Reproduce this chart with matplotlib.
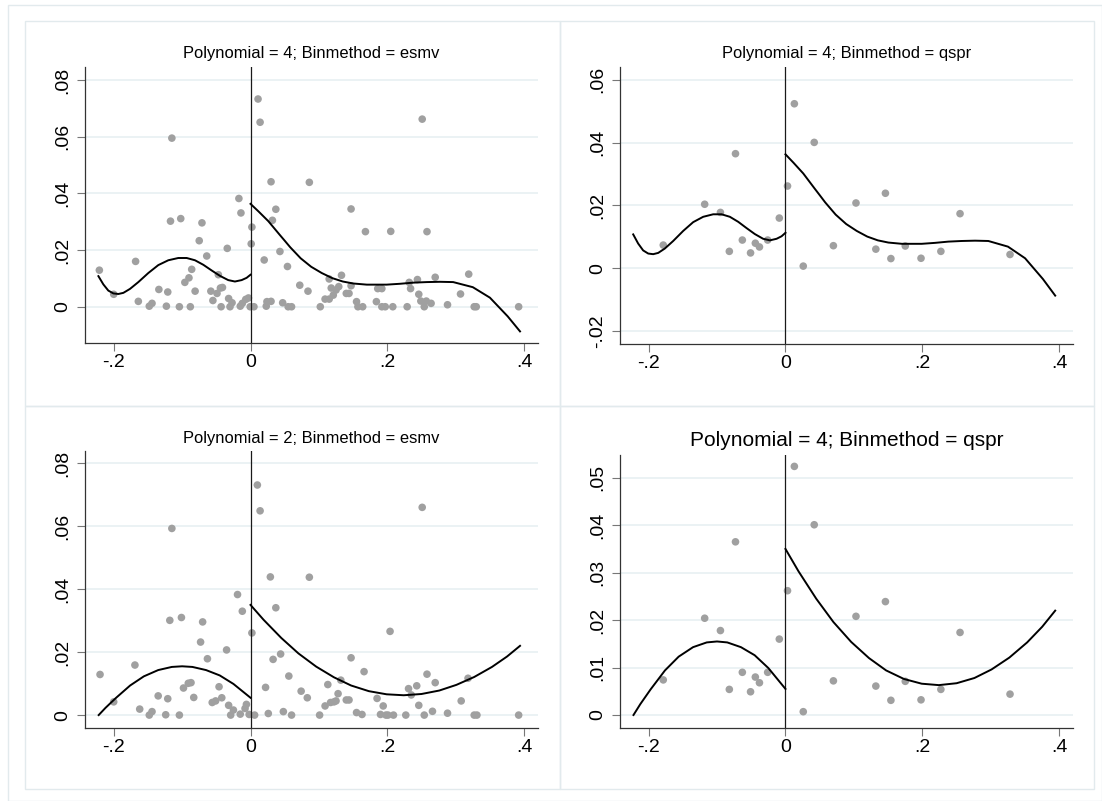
import numpy as np
import matplotlib
matplotlib.use("Agg")
import matplotlib.pyplot as plt
from matplotlib.patches import Rectangle
from matplotlib.ticker import FuncFormatter

plt.rcParams['font.family'] = ['Liberation Sans', 'DejaVu Sans']

#DATA - binned means, esmv (polynomial 4 panel)
esmv4_x = [-0.221, -0.200, -0.168, -0.164, -0.148, -0.144, -0.134, -0.123, -0.121, -0.115,
           -0.117, -0.104, -0.102, -0.096, -0.090, -0.086, -0.088, -0.081, -0.075, -0.071,
           -0.064, -0.058, -0.055, -0.049, -0.047, -0.044, -0.041, -0.043, -0.034, -0.032,
           -0.030, -0.027, -0.017, -0.014, -0.015, -0.012, -0.007, -0.003, -0.0005, 0.001,
           0.002, 0.005, 0.011, 0.014, 0.020, 0.023, 0.024, 0.030, 0.030, 0.032,
           0.037, 0.043, 0.047, 0.054, 0.055, 0.060, 0.072, 0.084, 0.086, 0.102,
           0.109, 0.115, 0.115, 0.118, 0.121, 0.125, 0.129, 0.133, 0.140, 0.144,
           0.147, 0.147, 0.155, 0.157, 0.164, 0.168, 0.184, 0.186, 0.192, 0.192,
           0.197, 0.208, 0.205, 0.229, 0.232, 0.234, 0.244, 0.246, 0.249, 0.254,
           0.257, 0.264, 0.251, 0.258, 0.270, 0.288, 0.307, 0.319, 0.327, 0.330, 0.392]
esmv4_y = [0.0129, 0.0044, 0.0160, 0.0019, 0.0002, 0.0012, 0.0061, 0.0002, 0.0052, 0.0595,
           0.0302, 0.0000, 0.0311, 0.0086, 0.0102, 0.0132, 0.0000, 0.0055, 0.0233, 0.0296,
           0.0179, 0.0055, 0.0022, 0.0047, 0.0113, 0.0066, 0.0068, 0.0000, 0.0206, 0.0029,
           0.0000, 0.0014, 0.0382, 0.0331, 0.0002, 0.0012, 0.0026, 0.0031, 0.0000, 0.0222,
           0.0281, 0.0000, 0.0733, 0.0651, 0.0165, 0.0002, 0.0018, 0.0019, 0.0441, 0.0305,
           0.0344, 0.0195, 0.0014, 0.0142, 0.0000, 0.0000, 0.0076, 0.0055, 0.0439, 0.0000,
           0.0027, 0.0027, 0.0098, 0.0066, 0.0041, 0.0059, 0.0071, 0.0111, 0.0047, 0.0047,
           0.0345, 0.0074, 0.0018, 0.0000, 0.0000, 0.0265, 0.0018, 0.0064, 0.0064, 0.0000,
           0.0000, 0.0000, 0.0266, 0.0000, 0.0086, 0.0064, 0.0096, 0.0044, 0.0020, 0.0000,
           0.0020, 0.0012, 0.0662, 0.0265, 0.0104, 0.0007, 0.0045, 0.0115, 0.0000, 0.0000, 0.0000]

#DATA - binned means, esmv (polynomial 2 panel)
esmv2_x = [-0.220, -0.200, -0.169, -0.162, -0.148, -0.144, -0.135, -0.124, -0.121, -0.115,
           -0.118, -0.104, -0.101, -0.098, -0.091, -0.087, -0.083, -0.073, -0.070, -0.063,
           -0.056, -0.051, -0.046, -0.042, -0.035, -0.032, -0.029, -0.025, -0.019, -0.012,
           -0.015, -0.008, -0.006, -0.002, 0.002, 0.006, 0.010, 0.014, 0.022, 0.026,
           0.029, 0.033, 0.037, 0.044, 0.048, 0.056, 0.060, 0.074, 0.083, 0.086,
           0.101, 0.109, 0.113, 0.117, 0.122, 0.125, 0.128, 0.132, 0.140, 0.144,
           0.147, 0.155, 0.163, 0.166, 0.185, 0.190, 0.194, 0.198, 0.201, 0.209,
           0.204, 0.227, 0.231, 0.235, 0.243, 0.246, 0.251, 0.254, 0.258, 0.266,
           0.270, 0.288, 0.308, 0.318, 0.327, 0.331, 0.392]
esmv2_y = [0.0129, 0.0042, 0.0159, 0.0019, 0.0000, 0.0011, 0.0061, 0.0001, 0.0052, 0.0593,
           0.0301, 0.0000, 0.0310, 0.0086, 0.0101, 0.0103, 0.0056, 0.0232, 0.0296, 0.0179,
           0.0040, 0.0045, 0.0090, 0.0055, 0.0207, 0.0031, 0.0000, 0.0016, 0.0383, 0.0330,
           0.0003, 0.0021, 0.0034, 0.0002, 0.0261, 0.0000, 0.0731, 0.0649, 0.0088, 0.0005,
           0.0439, 0.0177, 0.0341, 0.0194, 0.0011, 0.0124, 0.0000, 0.0076, 0.0055, 0.0438,
           0.0000, 0.0029, 0.0097, 0.0040, 0.0042, 0.0045, 0.0068, 0.0111, 0.0048, 0.0048,
           0.0182, 0.0008, 0.0002, 0.0138, 0.0053, 0.0002, 0.0029, 0.0000, 0.0000, 0.0000,
           0.0266, 0.0000, 0.0084, 0.0064, 0.0093, 0.0031, 0.0660, 0.0000, 0.0130, 0.0012,
           0.0103, 0.0006, 0.0045, 0.0117, 0.0000, 0.0000, 0.0000]

#DATA - binned means, qspr
qspr_x = [-0.1785, -0.118, -0.095, -0.082, -0.073, -0.063, -0.051, -0.044, -0.038, -0.026,
          -0.009, 0.003, 0.013, 0.026, 0.042, 0.070, 0.103, 0.132, 0.146, 0.154,
          0.175, 0.198, 0.227, 0.255, 0.328]
qspr_y = [0.0074, 0.0204, 0.0178, 0.0054, 0.0365, 0.0090, 0.0049, 0.0080, 0.0068, 0.0090,
          0.0160, 0.0262, 0.0524, 0.0007, 0.0401, 0.0072, 0.0208, 0.0061, 0.0239, 0.0031,
          0.0071, 0.0032, 0.0054, 0.0174, 0.0044]

#DATA - fitted polynomials
p4_left_x = [-0.2224, -0.2152, -0.2079, -0.2005, -0.1932, -0.1859, -0.1762, -0.1640, -0.1494,
             -0.1348, -0.1202, -0.1056, -0.0933, -0.0812, -0.0690, -0.0568, -0.0447, -0.0326,
             -0.0228, -0.0130, -0.0057, 0.0]
p4_left_y = [0.0108, 0.0079, 0.0057, 0.0047, 0.0045, 0.0049, 0.0063, 0.0087, 0.0119,
             0.0147, 0.0164, 0.0172, 0.0172, 0.0164, 0.0148, 0.0128, 0.0109, 0.0094,
             0.0089, 0.0094, 0.0102, 0.0113]
p4_right_x = [0.0, 0.0118, 0.026, 0.0426, 0.050, 0.058, 0.0733, 0.0887, 0.1041, 0.1195,
              0.1349, 0.1503, 0.170, 0.199, 0.2184, 0.2379, 0.2575, 0.2769, 0.2963, 0.325,
              0.350, 0.376, 0.394]
p4_right_y = [0.0363, 0.0336, 0.0302, 0.0254, 0.0233, 0.0210, 0.0171, 0.0141, 0.0119, 0.0101,
              0.0089, 0.0082, 0.0078, 0.0078, 0.0081, 0.0085, 0.0087, 0.0088, 0.0087, 0.0069,
              0.0032, -0.0034, -0.0087]
p2_left_x = [-0.222, -0.212, -0.197, -0.176, -0.156, -0.135, -0.115, -0.100, -0.085, -0.065,
             -0.045, -0.025, 0.0]
p2_left_y = [0.0000, 0.0023, 0.0054, 0.0094, 0.0123, 0.0143, 0.0153, 0.0155, 0.0153, 0.0143,
             0.0126, 0.0099, 0.0055]
p2_right_x = [0.0, 0.019, 0.045, 0.070, 0.096, 0.122, 0.147, 0.173, 0.199, 0.224,
              0.250, 0.276, 0.301, 0.327, 0.353, 0.375, 0.394]
p2_right_y = [0.0350, 0.0303, 0.0245, 0.0196, 0.0154, 0.0120, 0.0094, 0.0076, 0.0066, 0.0063,
              0.0067, 0.0078, 0.0096, 0.0121, 0.0153, 0.0186, 0.0220]

titles = ["Polynomial = 4; Binmethod = esmv", "Polynomial = 4; Binmethod = qspr",
          "Polynomial = 2; Binmethod = esmv", "Polynomial = 4; Binmethod = qspr"]
x_ticks = [-0.2, 0, 0.2, 0.4]
y_ticks_1 = [0, 0.02, 0.04, 0.06, 0.08]
y_ticks_2 = [-0.02, 0, 0.02, 0.04, 0.06]
y_ticks_4 = [0, 0.01, 0.02, 0.03, 0.04, 0.05]

#STYLE
W, H = 1102, 801
DOT = '#a0a0a0'
GRID = '#e8f0f2'
FRAME = '#e2eaed'
XLIM = (-0.2414, 0.4197)


def stata_label(v, pos=None):
    s = f"{round(v, 4):g}"
    if s == "-0":
        s = "0"
    if s.startswith("0."):
        s = s[1:]
    elif s.startswith("-0."):
        s = "-" + s[2:]
    return s


def px_axes(fig, left, right, top, bottom):
    return fig.add_axes([left / W, 1 - bottom / H, (right - left) / W, (bottom - top) / H])


def draw_panel(ax, x, y, curves, yticks, ylim):
    for t in yticks:
        ax.axhline(t, color=GRID, lw=1.2, zorder=0)
    ax.scatter(x, y, s=30, color=DOT, edgecolors='none', zorder=2)
    ax.axvline(0, color='#1a1a1a', lw=0.9, zorder=2.5)
    for cx, cy in curves:
        ax.plot(cx, cy, color='black', lw=1.4, zorder=3, solid_joinstyle='round')

    ax.set_xlim(XLIM)
    ax.set_ylim(ylim)
    ax.set_xticks(x_ticks)
    ax.set_yticks(yticks)
    ax.xaxis.set_major_formatter(FuncFormatter(stata_label))
    ax.yaxis.set_major_formatter(FuncFormatter(stata_label))
    for lab in ax.get_yticklabels():
        lab.set_rotation(90)
        lab.set_va('center')

    ax.spines['top'].set_visible(False)
    ax.spines['right'].set_visible(False)
    for side in ['left', 'bottom']:
        ax.spines[side].set_color('#333333')
        ax.spines[side].set_linewidth(0.9)
    ax.tick_params(axis='both', length=5.5, width=0.8, color='#777777', labelsize=14)
    ax.tick_params(axis='x', pad=2)
    ax.tick_params(axis='y', pad=4.5)
    ax.set_facecolor('white')


fig = plt.figure(figsize=(W / 100, H / 100), dpi=100)

#FRAMES
def frame(x0, y0, x1, y1):
    fig.add_artist(Rectangle((x0 / W, 1 - y1 / H), (x1 - x0) / W, (y1 - y0) / H,
                             transform=fig.transFigure, fill=False, ec=FRAME, lw=1))

frame(8, 4.7, 1101.5, 800.5)
frame(24.5, 20.7, 560, 406)
frame(560, 20.7, 1094, 406)
frame(24.5, 406, 560, 788.5)
frame(560, 406, 1094, 788.5)

ax1 = px_axes(fig, 85.4, 537.6, 66.7, 343.3)
draw_panel(ax1, esmv4_x, esmv4_y, [(p4_left_x, p4_left_y), (p4_right_x, p4_right_y)],
           y_ticks_1, (-0.0129, 0.0847))

ax2 = px_axes(fig, 620.2, 1072.8, 66.7, 344.3)
draw_panel(ax2, qspr_x, qspr_y, [(p4_left_x, p4_left_y), (p4_right_x, p4_right_y)],
           y_ticks_2, (-0.0242, 0.0642))

ax3 = px_axes(fig, 85.4, 537.6, 450.7, 728.3)
draw_panel(ax3, esmv2_x, esmv2_y, [(p2_left_x, p2_left_y), (p2_right_x, p2_right_y)],
           y_ticks_1, (-0.0042, 0.0840))

ax4 = px_axes(fig, 620.2, 1072.8, 455, 728.3)
draw_panel(ax4, qspr_x, qspr_y, [(p2_left_x, p2_left_y), (p2_right_x, p2_right_y)],
           y_ticks_4, (-0.0028, 0.0548))

#TITLES
fig.text(311.5 / W, 1 - 53.3 / H, titles[0], ha='center', va='center', fontsize=11.9)
fig.text(846.5 / W, 1 - 53.3 / H, titles[1], ha='center', va='center', fontsize=11.9)
fig.text(311.5 / W, 1 - 438 / H, titles[2], ha='center', va='center', fontsize=11.9)
fig.text(846.5 / W, 1 - 440 / H, titles[3], ha='center', va='center', fontsize=15)

fig.savefig("out.png", dpi=100, facecolor='white')
